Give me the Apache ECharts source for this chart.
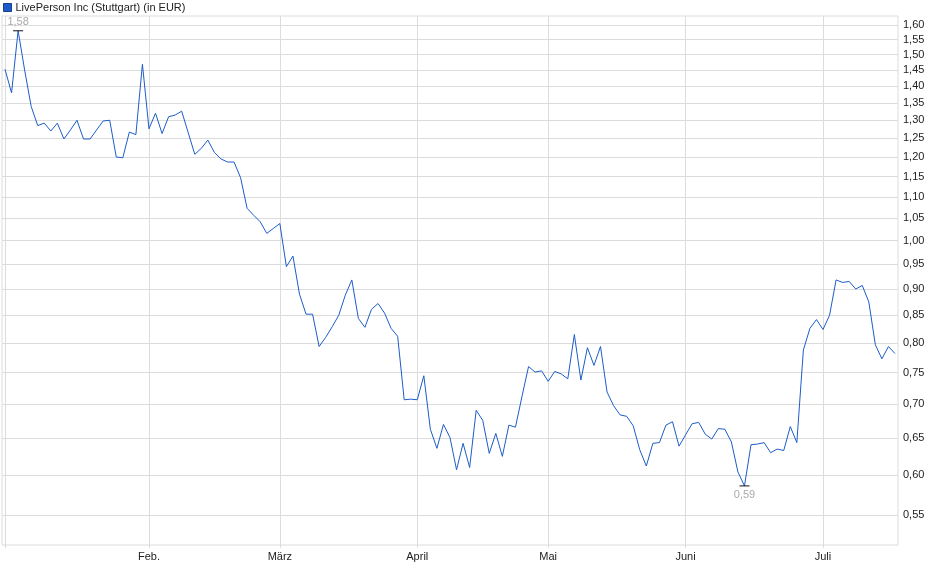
<!DOCTYPE html>
<html>
<head>
<meta charset="utf-8">
<title>LivePerson Inc (Stuttgart)</title>
<script src="https://cdn.jsdelivr.net/npm/echarts@6/dist/echarts.min.js"></script>
<style>
  html, body { margin: 0; padding: 0; background: #fff; }
  #chart { width: 940px; height: 579px; }
</style>
</head>
<body>
<div id="chart"></div>
<script>
var seriesName = 'LivePerson Inc (Stuttgart) (in EUR)';

// Schlusskurse je Handelstag (02.01. - 16.07.)
var prices = [
  1.453, 1.38, 1.58, 1.45, 1.34, 1.285, 1.292, 1.27, 1.292, 1.248,
  1.273, 1.30, 1.248, 1.248, 1.273, 1.298, 1.30, 1.20, 1.198, 1.267,
  1.26, 1.469, 1.276, 1.32, 1.263, 1.31, 1.315, 1.326, 1.265, 1.207,
  1.223, 1.245, 1.212, 1.195, 1.187, 1.187, 1.147, 1.073, 1.057, 1.042,
  1.016, 1.027, 1.038, 0.945, 0.967, 0.89, 0.852, 0.852, 0.794, 0.81,
  0.829, 0.85, 0.888, 0.918, 0.844, 0.828, 0.861, 0.872, 0.854, 0.826,
  0.812, 0.707, 0.708, 0.707, 0.745, 0.663, 0.636, 0.67, 0.651, 0.607,
  0.643, 0.61, 0.691, 0.676, 0.629, 0.657, 0.625, 0.669, 0.666, 0.712,
  0.76, 0.751, 0.753, 0.736, 0.752, 0.748, 0.74, 0.815, 0.738, 0.792,
  0.762, 0.794, 0.719, 0.698, 0.684, 0.682, 0.668, 0.634, 0.612, 0.643,
  0.644, 0.669, 0.674, 0.639, 0.655, 0.671, 0.673, 0.656, 0.649, 0.664,
  0.663, 0.645, 0.604, 0.586, 0.641, 0.642, 0.644, 0.63, 0.635, 0.633,
  0.667, 0.644, 0.788, 0.826, 0.842, 0.824, 0.85, 0.918, 0.913, 0.915,
  0.90, 0.907, 0.875, 0.797, 0.773, 0.794, 0.782
];

// erster Handelstag jedes Monats (Index in prices)
var monthStarts = [22, 42, 63, 83, 104, 125];
var monthLabels = ['Feb.', 'März', 'April', 'Mai', 'Juni', 'Juli'];

// Kursachse
var yTicks = [0.55, 0.60, 0.65, 0.70, 0.75, 0.80, 0.85, 0.90, 0.95, 1.00, 1.05,
  1.10, 1.15, 1.20, 1.25, 1.30, 1.35, 1.40, 1.45, 1.50, 1.55, 1.60];

function fmt(v) {
  return v.toFixed(2).replace('.', ',');
}

var chart = echarts.init(document.getElementById('chart'));

var lineData = prices.map(function (v, i) { return [i, v]; });
var tickPos = [0].concat(monthStarts);

var option = {
  animation: false,
  textStyle: { fontFamily: 'Liberation Sans, Arial, sans-serif' },
  legend: {
    data: [seriesName],
    left: 3,
    top: 2,
    padding: 0,
    icon: 'rect',
    itemWidth: 8,
    itemHeight: 8,
    itemGap: 5,
    selectedMode: false,
    itemStyle: { borderColor: '#1b3f86', borderWidth: 1 },
    textStyle: { fontSize: 11, color: '#222', padding: [0, 0, 0, -1] }
  },
  grid: {
    left: 2,
    right: 42,
    top: 16,
    bottom: 34,
    show: true,
    borderColor: '#dcdcdc',
    borderWidth: 1,
    containLabel: false
  },
  xAxis: {
    type: 'value',
    min: -0.46,
    max: prices.length - 1 + 0.46,
    axisLine: { show: false },
    axisTick: {
      show: true,
      customValues: tickPos,
      length: 3,
      lineStyle: { color: '#dcdcdc' }
    },
    axisLabel: {
      customValues: monthStarts,
      fontSize: 11,
      color: '#222',
      margin: 6,
      formatter: function (v) {
        var k = monthStarts.indexOf(Math.round(v));
        return k >= 0 ? monthLabels[k] : '';
      }
    },
    splitLine: { show: true, lineStyle: { color: '#dcdcdc', width: 1 } }
  },
  yAxis: {
    type: 'log',
    logBase: 10,
    min: 0.5152,
    max: 1.6317,
    axisLine: { show: false },
    axisTick: { show: false },
    axisLabel: { show: false },
    splitLine: { show: false }
  },
  series: [
    {
      name: seriesName,
      type: 'line',
      data: lineData,
      showSymbol: false,
      symbol: 'none',
      color: '#1c5cc8',
      lineStyle: { color: '#1c5cc8', width: 1 },
      z: 3,
      markLine: {
        silent: true,
        z: 1,
        symbol: ['none', 'none'],
        animation: false,
        lineStyle: { color: '#dcdcdc', type: 'solid', width: 1 },
        emphasis: { disabled: true },
        label: {
          show: true,
          position: 'end',
          distance: 5,
          fontSize: 11,
          color: '#222',
          formatter: function (p) { return fmt(p.value); }
        },
        data: yTicks.map(function (v) { return { yAxis: v }; })
      },
      markPoint: {
        silent: true,
        symbol: 'rect',
        symbolSize: [10, 1],
        itemStyle: { color: '#111' },
        label: {
          fontSize: 11,
          color: '#aaa',
          formatter: function (p) { return fmt(p.value); }
        },
        data: [
          { type: 'max', valueDim: 'y', label: { position: 'top', distance: 3 } },
          { type: 'min', valueDim: 'y', label: { position: 'bottom', distance: 3 } }
        ]
      }
    }
  ]
};

chart.setOption(option);
</script>
</body>
</html>
